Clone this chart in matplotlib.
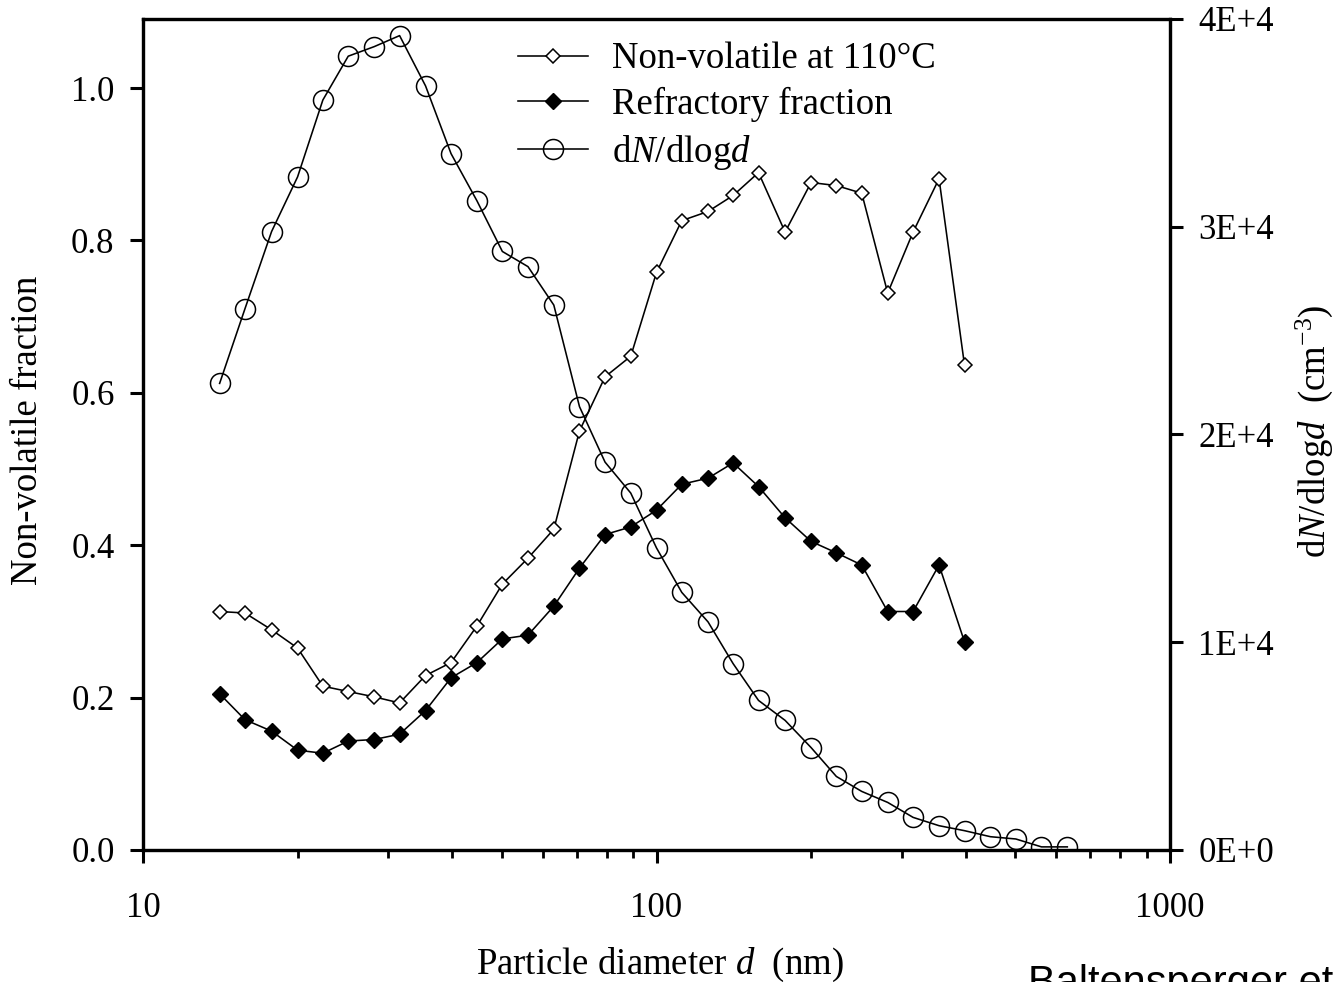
import matplotlib
matplotlib.use("Agg")
import matplotlib.pyplot as plt
from matplotlib.ticker import FixedLocator, FixedFormatter, NullFormatter

plt.rcParams['font.family'] = ['Liberation Serif', 'DejaVu Serif']
plt.rcParams['mathtext.fontset'] = 'custom'
plt.rcParams['mathtext.rm'] = 'Liberation Serif'
plt.rcParams['mathtext.it'] = 'Liberation Serif:italic'

# ---- data ----
diam = [14.1, 15.8, 17.8, 20.0, 22.4, 25.1, 28.2, 31.6, 35.5, 39.8, 44.7, 50.1,
        56.2, 63.1, 70.8, 79.4, 89.1, 100, 112, 126, 141, 158, 178, 200, 224,
        251, 282, 316, 355, 398, 447, 501, 562, 631]
nonvol = [0.313, 0.311, 0.289, 0.265, 0.215, 0.208, 0.201, 0.193, 0.229, 0.246,
          0.294, 0.349, 0.383, 0.421, 0.550, 0.621, 0.648, 0.758, 0.826, 0.838,
          0.859, 0.889, 0.811, 0.876, 0.872, 0.862, 0.731, 0.811, 0.881, 0.636]
refract = [0.205, 0.171, 0.156, 0.131, 0.127, 0.143, 0.145, 0.152, 0.183, 0.226,
           0.246, 0.277, 0.282, 0.320, 0.370, 0.414, 0.424, 0.446, 0.480, 0.488,
           0.508, 0.477, 0.436, 0.405, 0.390, 0.374, 0.313, 0.313, 0.374, 0.273]
dndlogd = [22460, 26060, 29770, 32400, 36100, 38210, 38670, 39200, 36780, 33520,
           31250, 28810, 28080, 26230, 21340, 18670, 17180, 14540, 12400, 10980,
           8970, 7200, 6240, 4930, 3540, 2820, 2290, 1570, 1170, 930, 640, 530,
           150, 150]

x_ticks = [10, 100, 1000]
x_ticklabels = ['10', '100', '1000']
x_minor = [20, 30, 40, 50, 60, 70, 80, 90, 200, 300, 400, 500, 600, 700, 800, 900]
left_ticks = [0.0, 0.2, 0.4, 0.6, 0.8, 1.0]
left_ticklabels = ['0.0', '0.2', '0.4', '0.6', '0.8', '1.0']
right_ticks = [0, 10000, 20000, 30000, 40000]
right_ticklabels = ['0E+0', '1E+4', '2E+4', '3E+4', '4E+4']

W, H = 1344, 982
fig = plt.figure(figsize=(W / 100, H / 100), dpi=100)
ax = fig.add_axes([143 / W, 1 - 850 / H, (1170 - 143) / W, (850 - 19) / H])
ax2 = ax.twinx()

n_nv = len(nonvol)
n_rf = len(refract)
lw = 1.15
l1, = ax.plot(diam[:n_nv], nonvol, color='black', lw=lw, marker='D', ms=7.6,
              mfc='white', mec='black', mew=1.1, label='Non-volatile at 110°C')
l2, = ax.plot(diam[:n_rf], refract, color='black', lw=lw, marker='D', ms=8.4,
              mfc='black', mec='black', mew=1.0, label='Refractory fraction')
l3, = ax2.plot(diam, dndlogd, color='black', lw=lw, marker='o', ms=14.4,
               mfc='none', mec='black', mew=1.1, label='d$N$/dlog$d$')

ax.set_xscale('log')
ax.set_xlim(10, 1000)
ax.set_ylim(0, 1.0906)
ax2.set_ylim(0, 40000)

ax.xaxis.set_major_locator(FixedLocator(x_ticks))
ax.xaxis.set_major_formatter(FixedFormatter(x_ticklabels))
ax.xaxis.set_minor_locator(FixedLocator(x_minor))
ax.xaxis.set_minor_formatter(NullFormatter())
ax.yaxis.set_major_locator(FixedLocator(left_ticks))
ax.yaxis.set_major_formatter(FixedFormatter(left_ticklabels))
ax2.yaxis.set_major_locator(FixedLocator(right_ticks))
ax2.yaxis.set_major_formatter(FixedFormatter(right_ticklabels))
ax.yaxis.set_minor_locator(FixedLocator([]))
ax2.yaxis.set_minor_locator(FixedLocator([]))

for a in (ax, ax2):
    for s in a.spines.values():
        s.set_linewidth(2.3)

ax.tick_params(axis='x', which='major', direction='out', length=9.5, width=2.2,
               labelsize=25, pad=21, top=False)
ax.tick_params(axis='x', which='minor', direction='out', length=6, width=2.0, top=False)
ax.tick_params(axis='y', which='major', direction='out', length=9.5, width=2.2,
               labelsize=25, pad=11, right=False)
ax2.tick_params(axis='y', which='major', direction='out', length=9.5, width=2.2,
                labelsize=25, pad=11, left=False)

fig.text(28 / W, 1 - 430 / H, 'Non-volatile fraction', rotation=90,
         ha='center', va='center', fontsize=26.5)
fig.text(1314 / W, 1 - 431 / H, 'd$N$/dlog$d$  (cm$^{-3}$)', rotation=90,
         ha='center', va='center', fontsize=26.5)
fig.text(660 / W, 1 - 974 / H, 'Particle diameter $d$  (nm)', ha='center',
         va='baseline', fontsize=26.5)
fig.text(1028 / W, 1 - 964 / H, 'Baltensperger et al.', ha='left', va='top',
         fontsize=30, family=['Liberation Sans', 'DejaVu Sans'])

leg = ax2.legend(handles=[l1, l2, l3], loc='upper left',
                 bbox_to_anchor=(518 / W, 1 - 42 / H), bbox_transform=fig.transFigure,
                 frameon=False, fontsize=26.5, borderpad=0, borderaxespad=0,
                 handlelength=1.9, handletextpad=0.65, labelspacing=0.29)

fig.savefig('out.png', dpi=100)
